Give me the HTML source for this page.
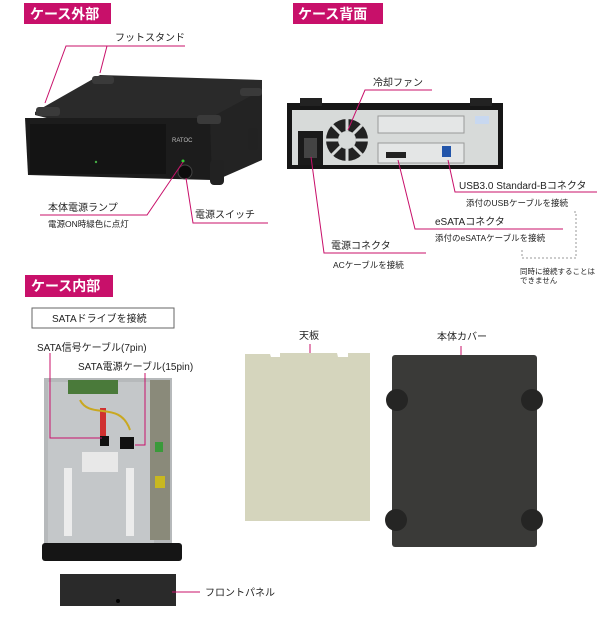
<!DOCTYPE html>
<html><head><meta charset="utf-8"><style>
html,body{margin:0;padding:0;background:#fff;}
svg{display:block;}
text{font-family:"Liberation Sans","Noto Sans CJK JP",sans-serif;fill:#222;}
.h{fill:#fff;font-weight:bold;font-size:14px;}
.l{font-size:10px;}
.s{font-size:8.5px;}
</style></head><body>
<svg width="600" height="617" viewBox="0 0 600 617" xmlns="http://www.w3.org/2000/svg">
<!-- headers -->
<rect x="24" y="3" width="87" height="21" fill="#c8106a"/>
<text x="30" y="19" class="h">ケース外部</text>
<rect x="293" y="3" width="90" height="21" fill="#c8106a"/>
<text x="298" y="19" class="h">ケース背面</text>
<rect x="25" y="275" width="88" height="22" fill="#c8106a"/>
<text x="31" y="291" class="h">ケース内部</text>

<!-- front case photo -->
<polygon points="35,112 100,75 262,80 262,120 210,160 35,115" fill="#2a2a2a"/>
<polygon points="25,118 215,118 212,180 28,175" fill="#1c1c1c"/>
<polygon points="210,118 262,90 262,160 212,182" fill="#232323"/>
<rect x="30" y="124" width="136" height="50" fill="#141414"/>
<rect x="36" y="107" width="24" height="9" rx="3" fill="#3a3a3a"/>
<rect x="92" y="76" width="22" height="8" rx="3" fill="#3a3a3a"/>
<rect x="197" y="115" width="24" height="9" rx="3" fill="#3a3a3a"/>
<rect x="240" y="88" width="22" height="8" rx="3" fill="#3a3a3a"/>
<rect x="210" y="160" width="14" height="25" rx="4" fill="#222"/>
<rect x="248" y="128" width="10" height="22" rx="4" fill="#222"/>
<circle cx="185" cy="172" r="7" fill="#0c0c0c" stroke="#444"/>
<circle cx="183" cy="161" r="1.5" fill="#3c3"/>
<circle cx="96" cy="162" r="1.2" fill="#4a4"/>
<text x="172" y="142" font-size="6" fill="#ccc" style="fill:#bbb">RATOC</text>

<text x="115" y="41" class="l">フットスタンド</text>
<polyline points="45,103 66,46 185,46" fill="none" stroke="#c8106a" stroke-width="1"/>
<line x1="107" y1="46" x2="100" y2="73" stroke="#c8106a"/>
<text x="48" y="211" class="l">本体電源ランプ</text>
<polyline points="40,215 147,215 183,162" fill="none" stroke="#c8106a"/>
<text x="48" y="227" class="s">電源ON時緑色に点灯</text>
<polyline points="186,178 193,223 268,223" fill="none" stroke="#c8106a"/>
<text x="195" y="218" class="l">電源スイッチ</text>

<!-- rear photo -->
<rect x="287" y="103" width="216" height="66" fill="#161616"/>
<rect x="300" y="98" width="22" height="8" fill="#222"/>
<rect x="470" y="98" width="22" height="8" fill="#222"/>
<rect x="292" y="110" width="206" height="55" fill="#d7dad9"/>
<rect x="298" y="131" width="25" height="34" fill="#1a1a1a"/>
<rect x="304" y="138" width="13" height="20" fill="#444"/>
<circle cx="347" cy="140" r="21" fill="#222"/>
<circle cx="347" cy="140" r="9" fill="#d7dad9"/>
<g stroke="#d7dad9" stroke-width="3">
<line x1="347" y1="119" x2="347" y2="131"/><line x1="347" y1="149" x2="347" y2="161"/>
<line x1="326" y1="140" x2="338" y2="140"/><line x1="356" y1="140" x2="368" y2="140"/>
<line x1="332" y1="125" x2="341" y2="134"/><line x1="353" y1="146" x2="362" y2="155"/>
<line x1="362" y1="125" x2="353" y2="134"/><line x1="341" y1="146" x2="332" y2="155"/></g>
<rect x="378" y="116" width="86" height="17" fill="#e4e6e6" stroke="#999"/>
<rect x="378" y="143" width="86" height="20" fill="#e4e6e6" stroke="#999"/>
<rect x="386" y="152" width="20" height="6" fill="#222"/>
<rect x="442" y="146" width="9" height="11" fill="#2255aa"/>
<rect x="475" y="116" width="14" height="8" fill="#c8d8f0"/>

<text x="373" y="86" class="l">冷却ファン</text>
<polyline points="348,130 365,90 432,90" fill="none" stroke="#c8106a"/>
<text x="459" y="189" class="l">USB3.0 Standard-Bコネクタ</text>
<polyline points="448,160 455,192 597,192" fill="none" stroke="#c8106a"/>
<text x="466" y="206" class="s">添付のUSBケーブルを接続</text>
<text x="435" y="225" class="l">eSATAコネクタ</text>
<polyline points="398,160 415,229 563,229" fill="none" stroke="#c8106a"/>
<text x="435" y="241" class="s">添付のeSATAケーブルを接続</text>
<text x="331" y="249" class="l">電源コネクタ</text>
<polyline points="311,157 324,253 426,253" fill="none" stroke="#c8106a"/>
<text x="333" y="268" class="s">ACケーブルを接続</text>
<polyline points="574,212 576,212 576,258 522,258 522,249" fill="none" stroke="#999" stroke-dasharray="2,2"/>
<text x="520" y="274" font-size="7.5">同時に接続することは</text>
<text x="520" y="283" font-size="7.5">できません</text>

<!-- inside -->
<rect x="32" y="308" width="142" height="20" fill="#fff" stroke="#666"/>
<text x="52" y="322" class="l">SATAドライブを接続</text>
<text x="37" y="351" class="l">SATA信号ケーブル(7pin)</text>
<text x="78" y="370" class="l">SATA電源ケーブル(15pin)</text>
<rect x="44" y="378" width="128" height="168" fill="#b6b9bb"/>
<rect x="48" y="382" width="106" height="162" fill="#c4c7c9"/>
<rect x="68" y="380" width="50" height="14" fill="#4a7a3a"/>
<rect x="150" y="380" width="20" height="160" fill="#8a8a7a"/>
<rect x="155" y="442" width="8" height="10" fill="#3a9a3a"/>
<rect x="155" y="476" width="10" height="12" fill="#c8b820"/>
<rect x="100" y="408" width="6" height="28" fill="#d03030"/>
<path d="M80,400 C90,420 120,400 130,430" stroke="#c9a820" stroke-width="2" fill="none"/>
<rect x="100" y="436" width="9" height="10" fill="#111"/>
<rect x="120" y="437" width="14" height="12" fill="#111"/>
<rect x="82" y="452" width="36" height="20" fill="#e8e8e8"/>
<rect x="64" y="468" width="8" height="68" fill="#ececec"/>
<rect x="126" y="468" width="8" height="68" fill="#ececec"/>
<rect x="42" y="543" width="140" height="18" rx="3" fill="#151515"/>
<polyline points="50,353 50,438 102,438" fill="none" stroke="#c8106a"/>
<polyline points="145,373 145,445 135,445" fill="none" stroke="#c8106a"/>
<rect x="60" y="574" width="116" height="32" fill="#2a2a2a"/>
<circle cx="118" cy="601" r="2" fill="#000"/>
<line x1="172" y1="592" x2="200" y2="592" stroke="#c8106a"/>
<text x="205" y="596" class="l">フロントパネル</text>

<!-- top plate and cover -->
<text x="299" y="339" class="l">天板</text>
<line x1="310" y1="344" x2="310" y2="358" stroke="#c8106a"/>
<polygon points="245,354 270,354 271,357 280,357 280,353 337,353 338,357 348,357 348,353 370,353 370,521 245,521" fill="#d5d5bd"/>
<text x="437" y="340" class="l">本体カバー</text>
<line x1="461" y1="346" x2="461" y2="362" stroke="#c8106a"/>
<rect x="392" y="355" width="145" height="192" rx="3" fill="#3a3a38"/>
<circle cx="397" cy="400" r="11" fill="#252524"/>
<circle cx="532" cy="400" r="11" fill="#252524"/>
<circle cx="396" cy="520" r="11" fill="#252524"/>
<circle cx="532" cy="520" r="11" fill="#252524"/>
</svg>
</body></html>
